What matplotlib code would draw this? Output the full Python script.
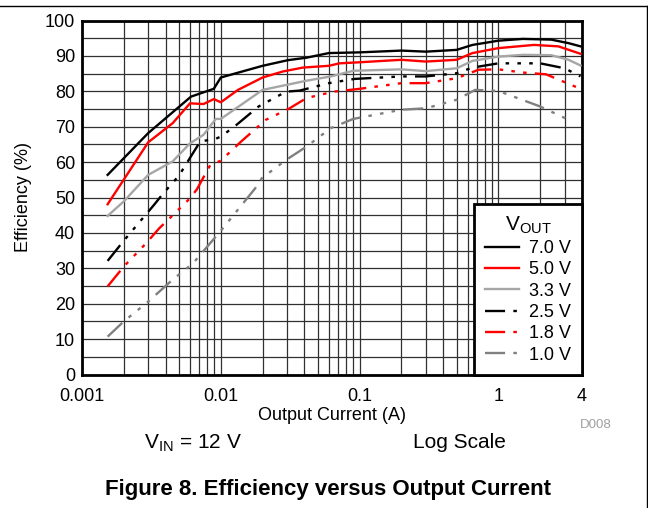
import numpy as np
import matplotlib.pyplot as plt
from matplotlib.lines import Line2D
from matplotlib.ticker import FixedLocator, NullFormatter

plt.rcParams['font.family'] = ['Liberation Sans', 'DejaVu Sans']
plt.rcParams['mathtext.fontset'] = 'custom'
plt.rcParams['mathtext.rm'] = 'Liberation Sans'

# efficiency curves (current in A, efficiency in %)
i_7v0 = [0.00153, 0.003, 0.0061, 0.0089, 0.01, 0.02, 0.0305, 0.0415, 0.06, 0.1, 0.2, 0.3, 0.5, 0.65, 1.0, 1.5, 2.4, 3.2, 3.9]
e_7v0 = [56.4, 68.2, 78.5, 80.7, 83.9, 87.2, 88.8, 89.5, 90.8, 91.0, 91.5, 91.2, 91.7, 93.1, 94.3, 94.8, 94.6, 93.6, 92.7]

i_5v0 = [0.00153, 0.003, 0.0045, 0.006, 0.0075, 0.0089, 0.01, 0.0133, 0.02, 0.028, 0.039, 0.06, 0.0715, 0.1, 0.2, 0.3, 0.5, 0.65, 1.0, 1.8, 2.7, 3.9]
e_5v0 = [48.1, 65.6, 71.0, 76.6, 76.4, 77.8, 76.9, 80.4, 83.9, 85.6, 86.7, 87.2, 87.9, 88.2, 88.9, 88.4, 88.9, 90.8, 92.2, 93.1, 92.7, 90.6]

i_3v3 = [0.00153, 0.002, 0.003, 0.0045, 0.006, 0.0075, 0.0092, 0.01, 0.02, 0.0415, 0.062, 0.09, 0.2, 0.3, 0.5, 0.65, 1.0, 1.5, 2.4, 3.2, 3.9]
e_3v3 = [44.8, 48.9, 56.4, 60.2, 65.3, 67.7, 72.2, 72.2, 80.4, 83.0, 84.2, 85.8, 86.2, 85.7, 86.5, 88.6, 89.8, 90.3, 90.2, 88.9, 87.3]

i_2v5 = [0.00153, 0.002, 0.0033, 0.0038, 0.005, 0.0071, 0.0092, 0.01, 0.0126, 0.0187, 0.0295, 0.037, 0.06, 0.092, 0.2, 0.3, 0.5, 0.65, 1.0, 2.0, 3.0, 3.9]
e_2v5 = [32.1, 37.8, 47.9, 50.9, 56.2, 65.8, 66.6, 67.2, 70.1, 75.7, 79.9, 80.2, 82.3, 83.5, 84.2, 84.2, 85.1, 86.7, 87.9, 87.9, 86.5, 84.2]

i_1v8 = [0.00153, 0.002, 0.0029, 0.0036, 0.0043, 0.0058, 0.0067, 0.0084, 0.01, 0.014, 0.021, 0.031, 0.0415, 0.065, 0.1, 0.2, 0.3, 0.5, 0.72, 1.0, 1.5, 2.2, 3.9]
e_1v8 = [24.9, 30.5, 37.1, 41.3, 44.2, 49.2, 52.2, 59.2, 60.4, 65.8, 71.9, 75.1, 78.1, 79.9, 80.7, 82.3, 82.3, 83.7, 86.1, 86.2, 85.3, 84.8, 80.7]

i_1v0 = [0.00153, 0.002, 0.003, 0.0045, 0.0063, 0.01, 0.0177, 0.0198, 0.0295, 0.0415, 0.062, 0.09, 0.2, 0.3, 0.5, 0.68, 1.0, 2.0, 3.4]
e_1v0 = [10.7, 15.0, 20.6, 26.8, 31.4, 40.6, 52.6, 55.5, 60.6, 64.4, 69.6, 72.2, 74.8, 75.2, 77.6, 80.4, 80.1, 75.7, 71.5]

labels = ['7.0 V', '5.0 V', '3.3 V', '2.5 V', '1.8 V', '1.0 V']
x_ticks = [0.001, 0.01, 0.1, 1, 4]
x_tick_labels = ['0.001', '0.01', '0.1', '1', '4']
y_ticks = list(range(0, 101, 10))

W, H = 648, 508
fig = plt.figure(figsize=(W / 100, H / 100), dpi=100)
ax = fig.add_axes([82 / W, 1 - 374.5 / H, (582 - 82) / W, (374.5 - 20.5) / H])

# long dash followed by three dots
dash = (0, (8.5, 3.5, 1.5, 3.5, 1.5, 3.5, 1.5, 3.5))
series = [
    (i_7v0, e_7v0, 'black', '-'),
    (i_5v0, e_5v0, '#ff0000', '-'),
    (i_3v3, e_3v3, '#a6a6a6', '-'),
    (i_2v5, e_2v5, 'black', dash),
    (i_1v8, e_1v8, '#ff0000', dash),
    (i_1v0, e_1v0, '#808080', dash),
]
for (x, y, c, ls), lab in zip(series, labels):
    ax.plot(x, y, color=c, linestyle=ls, lw=1.7, label=lab, zorder=3)

ax.set_xscale('log')
ax.set_xlim(0.001, 4)
ax.set_ylim(0, 100)

ax.xaxis.set_major_locator(FixedLocator(x_ticks))
ax.set_xticklabels(x_tick_labels)
minor_x = [m * d for d in [0.001, 0.01, 0.1, 1] for m in range(2, 10) if m * d < 4]
ax.xaxis.set_minor_locator(FixedLocator(minor_x))
ax.xaxis.set_minor_formatter(NullFormatter())
ax.set_yticks(y_ticks)
ax.set_yticks(range(5, 100, 10), minor=True)
ax.grid(True, which='both', color='#303030', lw=0.9, zorder=1)
ax.tick_params(which='both', length=0, labelsize=13)
ax.tick_params(axis='x', pad=10)
ax.tick_params(axis='y', pad=5)
for s in ax.spines.values():
    s.set_linewidth(2)

ax.set_xlabel('Output Current (A)', fontsize=13, labelpad=1)
ax.set_ylabel('Efficiency (%)', fontsize=13, labelpad=9)

leg = ax.legend(loc='lower right', bbox_to_anchor=(1.0, 0.0), fontsize=13,
                title=r'$\mathrm{V_{OUT}}$', title_fontsize=15,
                fancybox=False, framealpha=1, edgecolor='black',
                borderaxespad=0, labelspacing=0.24, handlelength=1.9,
                handletextpad=0.55, borderpad=0.6)
leg.get_frame().set_linewidth(2)

fig.text(596 / W, 1 - 425 / H, 'D008', fontsize=9.5, color='#a0a0a0', ha='center', va='center')
fig.text(193 / W, 1 - 443 / H, r'$\mathrm{V_{IN}}$ = 12 V', fontsize=15, ha='center', va='center')
fig.text(459 / W, 1 - 443 / H, 'Log Scale', fontsize=15, ha='center', va='center')
fig.text(328 / W, 1 - 489 / H, 'Figure 8. Efficiency versus Output Current',
         fontsize=16, fontweight='bold', ha='center', va='center')

fig.add_artist(Line2D([0, 647 / W], [1 - 6 / H, 1 - 6 / H], color='black', lw=1, transform=fig.transFigure))
fig.add_artist(Line2D([647 / W, 647 / W], [1 - 6 / H, 0], color='black', lw=1, transform=fig.transFigure))

fig.savefig('out.png', dpi=100)
